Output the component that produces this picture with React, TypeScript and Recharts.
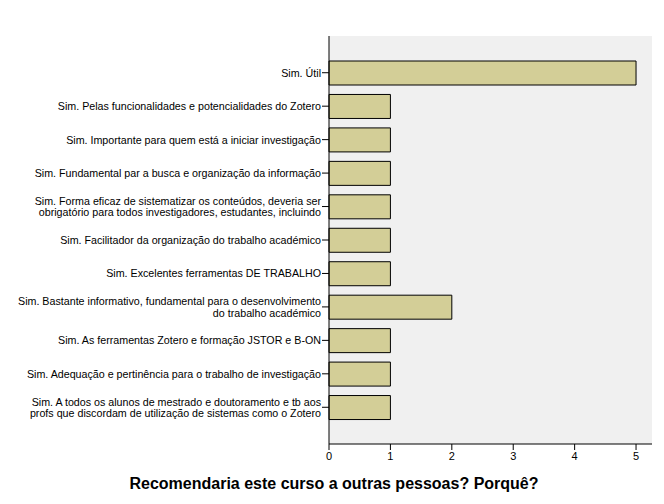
import { BarChart, Bar, XAxis, YAxis, CartesianGrid } from 'recharts';

// answers (line breaks as in the original axis)
const categories = [
  'Sim. Útil',
  'Sim. Pelas funcionalidades e potencialidades do Zotero',
  'Sim. Importante para quem está a iniciar investigação',
  'Sim. Fundamental par a busca e organização da informação',
  'Sim. Forma eficaz de sistematizar os conteúdos, deveria ser\nobrigatório para todos investigadores, estudantes, incluindo',
  'Sim. Facilitador da organização do trabalho académico',
  'Sim. Excelentes ferramentas DE TRABALHO',
  'Sim. Bastante informativo, fundamental para o desenvolvimento\ndo trabalho académico',
  'Sim. As ferramentas Zotero e formação JSTOR e B-ON',
  'Sim. Adequação e pertinência para o trabalho de investigação',
  'Sim. A todos os alunos de mestrado e doutoramento e tb aos\nprofs que discordam de utilização de sistemas como o Zotero',
];
const counts = [5, 1, 1, 1, 1, 1, 1, 2, 1, 1, 1];
const xTicks = [0, 1, 2, 3, 4, 5];
const title = 'Recomendaria este curso a outras pessoas? Porquê?';

const FONT = '"Liberation Sans", Arial, sans-serif';
const BAR_FILL = '#d3ce97';
const PLOT_BG = '#f0f0f0';

const data = categories.map((label, i) => ({ label, count: counts[i] }));

function CategoryTick(props: any) {
  const { x, y, payload } = props;
  const lines = String(payload.value).split('\n');
  const lh = 11.5;
  const y0 = y - ((lines.length - 1) * lh) / 2;
  return (
    <text x={x} y={y0} textAnchor="end" fontSize={10.7} fontFamily={FONT} fill="#000" dominantBaseline="central">
      {lines.map((l, i) => (
        <tspan key={i} x={x + 1} y={y0 + i * lh}>{l}</tspan>
      ))}
    </text>
  );
}

export default function App() {
  return (
    <div style={{ position: 'absolute', left: 0, top: 0, width: 664, height: 504, background: '#fff' }}>
      <BarChart
        layout="vertical"
        width={664}
        height={504}
        data={data}
        margin={{ top: 36, right: 12, bottom: 40, left: 0 }}
      >
        <CartesianGrid fill={PLOT_BG} horizontal={false} vertical={false} />
        <XAxis
          type="number"
          domain={[0, 5.26]}
          ticks={xTicks}
          height={20}
          axisLine={{ stroke: '#000' }}
          tickLine={{ stroke: '#000' }}
          tickSize={6}
          tick={{ fontSize: 11, fontFamily: FONT, fill: '#000' }}
        />
        <XAxis
          xAxisId="top"
          orientation="top"
          type="number"
          domain={[0, 5.26]}
          height={0}
          tick={false}
          tickLine={false}
          axisLine={{ stroke: '#333' }}
        />
        <YAxis
          type="category"
          dataKey="label"
          width={329}
          padding={{ top: 20, bottom: 20 }}
          axisLine={{ stroke: '#000' }}
          tickLine={{ stroke: '#000' }}
          tickSize={7}
          interval={0}
          tick={<CategoryTick />}
        />
        <YAxis
          yAxisId="right"
          orientation="right"
          type="category"
          dataKey="label"
          width={0}
          tick={false}
          tickLine={false}
          axisLine={{ stroke: '#333' }}
        />
        <Bar dataKey="count" fill={BAR_FILL} stroke="#000" strokeWidth={1} barSize={24} isAnimationActive={false} />
      </BarChart>
      <div
        style={{
          position: 'absolute', left: 0, width: 668, top: 475, textAlign: 'center',
          fontFamily: FONT, fontWeight: 'bold', fontSize: 16, color: '#000',
        }}
      >
        {title}
      </div>
    </div>
  );
}
